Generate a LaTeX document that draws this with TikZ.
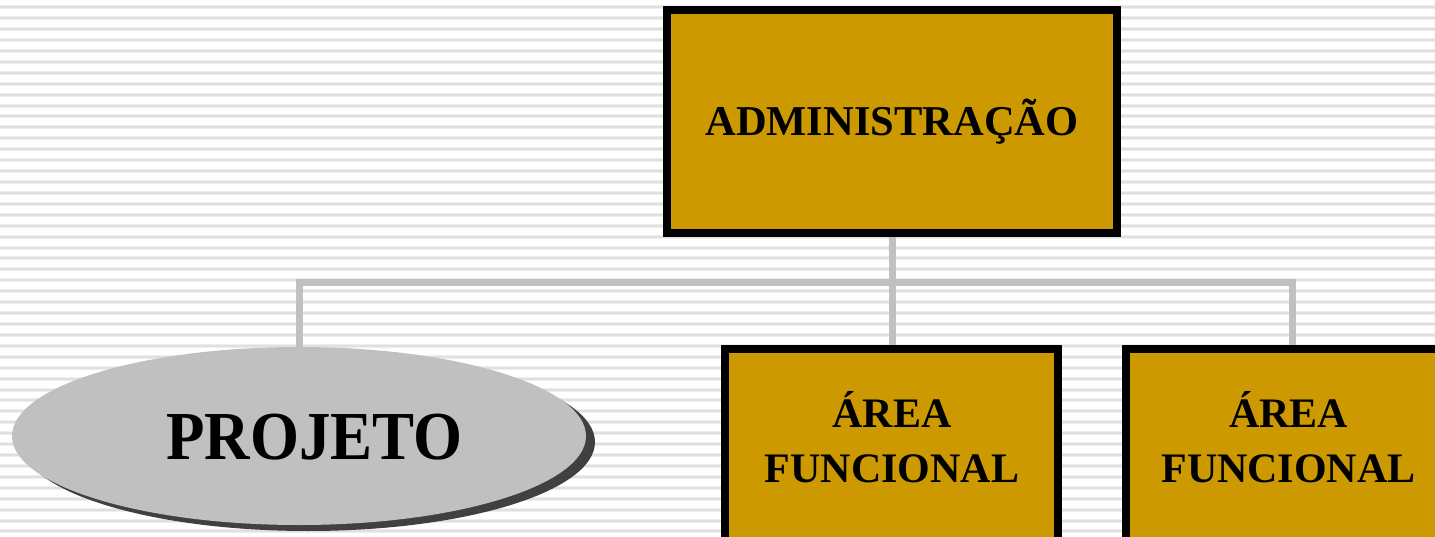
\documentclass[tikz,border=0pt]{standalone}
\usepackage{fontspec}
\setmainfont{Liberation Serif}
\usetikzlibrary{shapes.geometric,shadows,backgrounds}

\definecolor{gold}{HTML}{CC9900}
\definecolor{linkgray}{HTML}{C0C0C0}
\definecolor{ovalgray}{HTML}{C0C0C0}
\definecolor{shadowgray}{HTML}{404040}
\definecolor{stripecore}{HTML}{E0E0E0}
\definecolor{stripeedge}{HTML}{EEEEEE}

\tikzset{
  orgbox/.style={draw=black, line width=8pt, fill=gold, rectangle, inner sep=0pt},
  areatext/.style={align=center, font=\fontsize{42}{55}\selectfont\bfseries, inner sep=0pt},
  projoval/.style={ellipse, fill=ovalgray, inner sep=0pt,
    minimum width=574pt, minimum height=178pt,
    drop shadow={shadow xshift=9pt, shadow yshift=-6pt, fill=shadowgray, opacity=1}},
  projtext/.style={font=\fontsize{63}{63}\selectfont\bfseries, inner sep=0pt},
  conn/.style={draw=linkgray, line width=7pt},
  stripeedgeline/.style={draw=stripeedge, line width=4pt},
  stripecoreline/.style={draw=stripecore, line width=2pt}
}

\begin{document}
\begin{tikzpicture}[x=1pt, y=-1pt]
  \useasboundingbox (0,0) rectangle (1435,537);
  \clip (0,0) rectangle (1435,537);

  % ruled paper background
  \begin{pgfonlayer}{background}
    \fill[white] (0,0) rectangle (1435,537);
    \foreach \k in {0,...,49} {
      \draw[stripeedgeline] (0,7.3+10.92*\k) -- (1435,7.3+10.92*\k);
      \draw[stripecoreline] (0,7.3+10.92*\k) -- (1435,7.3+10.92*\k);
    }
  \end{pgfonlayer}

  % top of the hierarchy
  \node[orgbox, minimum width=450pt, minimum height=223pt,
        font=\fontsize{42.5}{50}\selectfont\bfseries] (admin) at (892,122) {ADMINISTRAÇÃO};

  % the project
  \node[projoval] (proj) at (299,436) {};
  \node[projtext] (projtxt) at (314.5,437) {\scalebox{1}[1.09]{PROJETO}};

  % functional areas (boxes run past the lower edge)
  \node[orgbox, minimum width=333pt, minimum height=260pt, anchor=north] (area1) at (891.5,345) {};
  \node[areatext] (area1txt) at (892,437) {ÁREA\\FUNCIONAL};
  \node[orgbox, minimum width=333pt, minimum height=260pt, anchor=north] (area2) at (1292.5,345) {};
  \node[areatext] (area2txt) at (1288.5,437) {ÁREA\\FUNCIONAL};

  \coordinate (bus) at (892,283);

  % connectors behind the shapes
  \begin{pgfonlayer}{background}
    \draw[conn] (admin.south) -- (admin.south |- area1.north);
    \draw[conn] (proj.north) |- (bus) -| (area2.north);
  \end{pgfonlayer}
\end{tikzpicture}
\end{document}
